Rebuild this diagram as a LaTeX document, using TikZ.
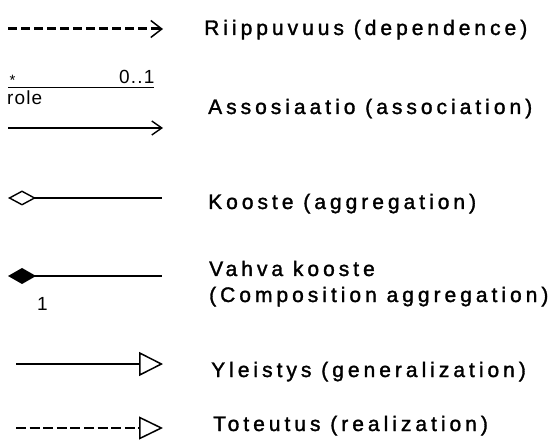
\documentclass[tikz,border=0pt]{standalone}
\usepackage{fontspec}
\usetikzlibrary{arrows.meta}
\newfontfamily\lblfont[LetterSpace=19,FakeBold=1.5]{Liberation Sans}
\newfontfamily\smfont[LetterSpace=6]{Liberation Sans}
\tikzset{
  lbl/.style={anchor=base west, inner sep=0pt, font=\lblfont\fontsize{21}{26}\selectfont, align=left},
  sm/.style={anchor=base west, inner sep=0pt, font=\smfont\fontsize{19}{20}\selectfont},
  tiny/.style={anchor=base west, inner sep=0pt, font=\smfont\fontsize{15}{16}\selectfont},
  thin line/.style={line width=1.6pt, black},
  dep/.style={line width=3pt, dash pattern=on 9pt off 4pt,
    -{Straight Barb[length=11pt,width=17pt,line width=1.5pt]}},
  assoc/.style={thin line, -{Straight Barb[length=10pt,width=14pt,line width=1.4pt]}},
  aggr/.style={thin line, {Diamond[open,length=28pt,width=15pt,line width=1.4pt]}-},
  comp/.style={thin line, {Diamond[length=28pt,width=16pt]}-},
  gen/.style={thin line, -{Triangle[open,length=24pt,width=24pt,line width=1.5pt]}},
  real/.style={line width=2.9pt, dash pattern=on 10pt off 3.6pt,
    -{Triangle[open,length=24pt,width=23pt,line width=1.5pt]}},
}
\begin{document}
\begin{tikzpicture}[x=1pt,y=-1pt]
\useasboundingbox (0,0) rectangle (556,443);
% row 1
\coordinate (d1s) at (8,29);
\coordinate (d1e) at (163,29);
\draw[dep] (d1s) -- (d1e);
\node[lbl] (t1) at (204,35) {Riippuvuus (dependence)};
% row 2
\coordinate (r2s) at (8,87.5);
\coordinate (r2e) at (154,87.5);
\draw[thin line] (r2s) -- (r2e);
\node[tiny] (star) at (9.5,86) {*};
\node[sm] (mult) at (119,84) {0..1};
\node[sm] (role) at (7,105) {role};
\coordinate (a2s) at (8,128);
\coordinate (a2e) at (163,128);
\draw[assoc] (a2s) -- (a2e);
\node[lbl] (t2) at (208,114) {Assosiaatio (association)};
% row 3
\coordinate (g3s) at (8,198);
\coordinate (g3e) at (162,198);
\draw[aggr] (g3s) -- (g3e);
\node[lbl] (t3) at (208,209) {Kooste (aggregation)};
% row 4
\coordinate (c4s) at (8,276);
\coordinate (c4e) at (162,276);
\draw[comp] (c4s) -- (c4e);
\node[sm] (one) at (37,310) {1};
\node[lbl] (t4) at (209,276) {Vahva kooste};
\node[lbl] (t4b) at (209,302) {(Composition aggregation)};
% row 5
\coordinate (y5s) at (16,364);
\coordinate (y5e) at (163,364);
\draw[gen] (y5s) -- (y5e);
\node[lbl] (t5) at (211,377) {Yleistys (generalization)};
% row 6
\coordinate (r6s) at (16,428);
\coordinate (r6e) at (163,428);
\draw[real] (r6s) -- (r6e);
\node[lbl] (t6) at (213,431) {Toteutus (realization)};
\end{tikzpicture}
\end{document}
